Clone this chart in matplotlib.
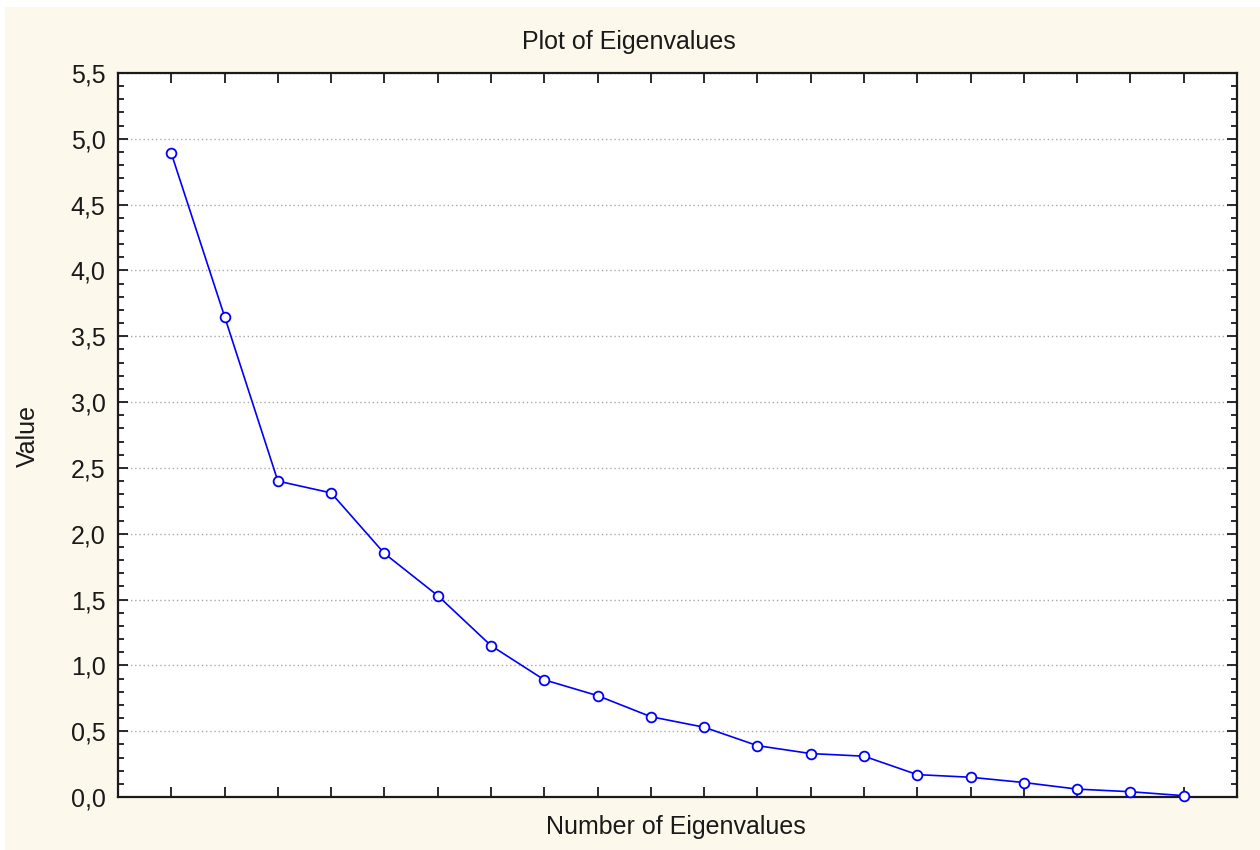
import matplotlib
matplotlib.use("Agg")
import matplotlib.pyplot as plt
from matplotlib.ticker import MultipleLocator, FuncFormatter
from matplotlib.patches import Rectangle

eigen_numbers = list(range(1, 21))
eigen_values = [4.89, 3.65, 2.40, 2.31, 1.85, 1.53, 1.15, 0.89, 0.77, 0.61,
                0.53, 0.39, 0.33, 0.31, 0.17, 0.15, 0.11, 0.06, 0.04, 0.01]
title = "Plot of Eigenvalues"
xlabel = "Number of Eigenvalues"
ylabel = "Value"

plt.rcParams['font.family'] = ['Liberation Sans', 'DejaVu Sans']

W, H = 1260, 850
fig = plt.figure(figsize=(W / 100, H / 100), dpi=100, facecolor='white')
fig.patches.append(Rectangle((5 / W, -0.02), 1.02, 1.02 - 7 / H, transform=fig.transFigure,
                             facecolor='#FDF8EC', edgecolor='none', zorder=-10))

ax = fig.add_axes([118 / W, 1 - 797 / H, (1237 - 118) / W, (797 - 73) / H])
ax.set_facecolor('white')

ax.plot(eigen_numbers, eigen_values, color='#0000FF', lw=1.2, marker='o', ms=7,
        mfc='white', mec='#0000FF', mew=1.3, clip_on=False, zorder=3)

ax.set_xlim(0, 21)
ax.set_ylim(0, 5.5)
ax.set_xticks(eigen_numbers)
ax.set_xticklabels([])
ax.yaxis.set_major_locator(MultipleLocator(0.5))
ax.yaxis.set_minor_locator(MultipleLocator(0.1))
ax.yaxis.set_major_formatter(FuncFormatter(lambda v, p: f"{v:.1f}".replace('.', ',')))
ax.tick_params(axis='both', which='both', direction='in', top=True, right=True,
               color='#1a1a1a', width=1.3)
ax.tick_params(axis='both', which='major', length=7, labelsize=18, labelcolor='#1a1a1a')
ax.tick_params(axis='y', which='minor', length=4)
ax.tick_params(axis='y', which='major', pad=9)

ax.grid(axis='y', which='major', linestyle=(0, (1, 2)), color='#a8a8a8', lw=1.0)
ax.set_axisbelow(True)
for s in ax.spines.values():
    s.set_linewidth(1.6)
    s.set_color('#1a1a1a')

fig.text(629 / W, 1 - 42 / H, title, ha='center', va='center',
         fontsize=18, color='#1a1a1a')
fig.text(676 / W, 1 - 827 / H, xlabel, ha='center', va='center',
         fontsize=18, color='#1a1a1a')
fig.text(28 / W, 1 - 436 / H, ylabel, ha='center', va='center', rotation=90,
         fontsize=18, color='#1a1a1a')

fig.savefig('out.png', dpi=100, facecolor=fig.get_facecolor())
